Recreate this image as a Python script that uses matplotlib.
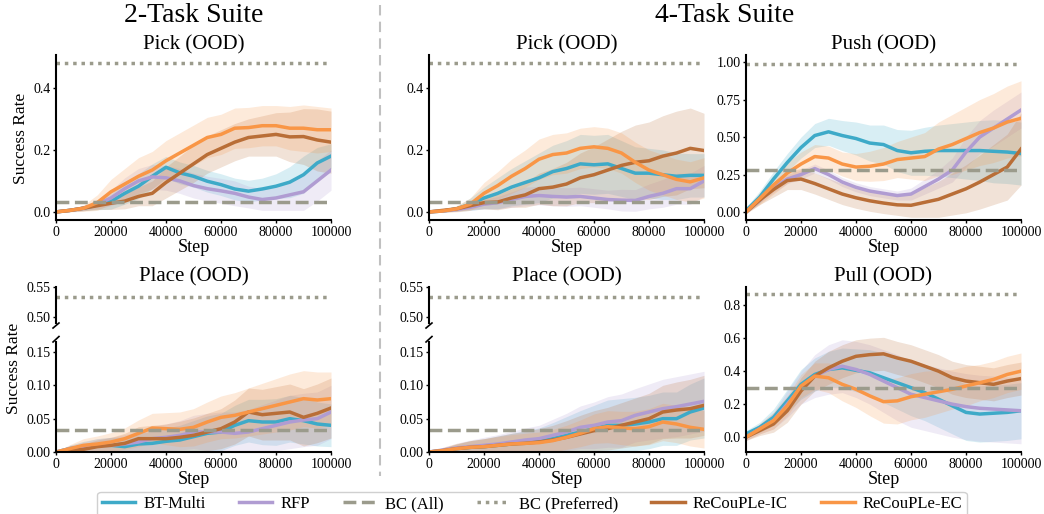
import numpy as np
import matplotlib
matplotlib.use("Agg")
import matplotlib.pyplot as plt
from matplotlib.lines import Line2D

plt.rcParams['font.family'] = ['Liberation Serif', 'DejaVu Serif']

STEPS = [0, 5000, 10000, 15000, 20000, 25000, 30000, 35000, 40000, 45000, 50000,
         55000, 60000, 65000, 70000, 75000, 80000, 85000, 90000, 95000, 100000]

C_BT = '#3eaac8'
C_RFP = '#b09cd2'
C_BC = '#9b9b8c'
C_IC = '#b96e37'
C_EC = '#f99646'

# --- 2-task pick ---
PICK2_BT = [0, 0.005, 0.012, 0.022, 0.034, 0.06, 0.083, 0.115, 0.144, 0.126, 0.115,
            0.099, 0.088, 0.074, 0.067, 0.074, 0.083, 0.096, 0.12, 0.158, 0.18]
PICK2_BT_SD = [0, 0.004, 0.008, 0.015, 0.025, 0.035, 0.04, 0.04, 0.035, 0.035, 0.035,
               0.035, 0.035, 0.035, 0.035, 0.035, 0.04, 0.05, 0.06, 0.05, 0.04]
PICK2_RFP = [0, 0.005, 0.012, 0.025, 0.045, 0.075, 0.1, 0.113, 0.11, 0.1, 0.085,
             0.075, 0.068, 0.06, 0.048, 0.04, 0.045, 0.055, 0.065, 0.1, 0.135]
PICK2_RFP_SD = [0, 0.004, 0.008, 0.015, 0.025, 0.035, 0.04, 0.04, 0.04, 0.04, 0.04,
                0.04, 0.04, 0.04, 0.035, 0.035, 0.04, 0.05, 0.06, 0.065, 0.065]
PICK2_IC = [0, 0.005, 0.012, 0.02, 0.028, 0.035, 0.05, 0.06, 0.095, 0.125, 0.155,
            0.185, 0.205, 0.225, 0.24, 0.245, 0.25, 0.242, 0.243, 0.232, 0.225]
PICK2_IC_SD = [0, 0.004, 0.008, 0.012, 0.02, 0.025, 0.03, 0.04, 0.05, 0.055, 0.06,
               0.06, 0.06, 0.06, 0.06, 0.065, 0.07, 0.08, 0.09, 0.1, 0.1]
PICK2_EC = [0, 0.005, 0.012, 0.03, 0.065, 0.09, 0.115, 0.135, 0.165, 0.19, 0.215,
            0.24, 0.25, 0.27, 0.272, 0.278, 0.278, 0.27, 0.27, 0.265, 0.265]
PICK2_EC_SD = [0, 0.005, 0.01, 0.025, 0.04, 0.05, 0.06, 0.06, 0.065, 0.065, 0.065,
               0.065, 0.065, 0.065, 0.065, 0.065, 0.065, 0.07, 0.075, 0.075, 0.07]

# --- 2-task place ---
PLACE2_BT = [0, 0.005, 0.008, 0.01, 0.01, 0.008, 0.012, 0.013, 0.016, 0.018, 0.023,
             0.028, 0.03, 0.04, 0.047, 0.045, 0.045, 0.05, 0.047, 0.042, 0.04]
PLACE2_BT_SD = [0, 0.005, 0.008, 0.01, 0.012, 0.014, 0.016, 0.018, 0.02, 0.022, 0.024,
                0.026, 0.028, 0.03, 0.032, 0.034, 0.035, 0.035, 0.035, 0.033, 0.032]
PLACE2_RFP = [0, 0.005, 0.007, 0.01, 0.01, 0.012, 0.015, 0.02, 0.022, 0.025, 0.03,
              0.03, 0.03, 0.028, 0.03, 0.035, 0.04, 0.045, 0.048, 0.05, 0.06]
PLACE2_RFP_SD = [0, 0.005, 0.008, 0.01, 0.012, 0.014, 0.016, 0.018, 0.02, 0.022, 0.025,
                 0.028, 0.03, 0.032, 0.034, 0.036, 0.038, 0.04, 0.04, 0.04, 0.04]
PLACE2_IC = [0, 0.002, 0.004, 0.008, 0.01, 0.013, 0.02, 0.02, 0.02, 0.022, 0.025,
             0.03, 0.035, 0.045, 0.06, 0.056, 0.058, 0.06, 0.052, 0.058, 0.066]
PLACE2_IC_SD = [0, 0.004, 0.008, 0.01, 0.012, 0.015, 0.018, 0.02, 0.022, 0.024, 0.026,
                0.028, 0.03, 0.033, 0.036, 0.038, 0.04, 0.042, 0.043, 0.044, 0.045]
PLACE2_EC = [0, 0.005, 0.01, 0.012, 0.015, 0.02, 0.028, 0.036, 0.035, 0.034, 0.037,
             0.045, 0.052, 0.055, 0.06, 0.065, 0.07, 0.075, 0.08, 0.078, 0.08]
PLACE2_EC_SD = [0, 0.006, 0.01, 0.012, 0.014, 0.016, 0.02, 0.022, 0.024, 0.026, 0.028,
                0.03, 0.032, 0.034, 0.036, 0.038, 0.04, 0.042, 0.042, 0.042, 0.04]

# --- 4-task pick ---
PICK4_BT = [0, 0.003, 0.01, 0.025, 0.045, 0.06, 0.08, 0.095, 0.11, 0.13, 0.14,
            0.155, 0.152, 0.155, 0.14, 0.125, 0.125, 0.12, 0.115, 0.118, 0.118]
PICK4_BT_SD = [0, 0.004, 0.008, 0.02, 0.035, 0.05, 0.06, 0.07, 0.08, 0.085, 0.09,
               0.095, 0.095, 0.095, 0.09, 0.085, 0.08, 0.08, 0.075, 0.07, 0.07]
PICK4_RFP = [0, 0.003, 0.008, 0.015, 0.025, 0.03, 0.04, 0.05, 0.053, 0.05, 0.048,
             0.05, 0.045, 0.04, 0.038, 0.037, 0.05, 0.06, 0.075, 0.075, 0.1]
PICK4_RFP_SD = [0, 0.003, 0.006, 0.01, 0.015, 0.02, 0.025, 0.03, 0.03, 0.03, 0.03,
                0.03, 0.03, 0.03, 0.035, 0.035, 0.04, 0.045, 0.05, 0.05, 0.05]
PICK4_IC = [0, 0.005, 0.01, 0.02, 0.03, 0.032, 0.045, 0.055, 0.075, 0.08, 0.09,
            0.11, 0.12, 0.135, 0.15, 0.16, 0.165, 0.18, 0.19, 0.205, 0.198]
PICK4_IC_SD = [0, 0.004, 0.008, 0.012, 0.02, 0.025, 0.03, 0.04, 0.05, 0.06, 0.07,
               0.08, 0.09, 0.1, 0.11, 0.12, 0.125, 0.13, 0.135, 0.13, 0.12]
PICK4_EC = [0, 0.003, 0.01, 0.025, 0.06, 0.085, 0.115, 0.14, 0.17, 0.185, 0.19,
            0.205, 0.21, 0.205, 0.19, 0.16, 0.135, 0.12, 0.105, 0.097, 0.11]
PICK4_EC_SD = [0, 0.005, 0.01, 0.02, 0.035, 0.045, 0.055, 0.06, 0.065, 0.065, 0.065,
               0.065, 0.065, 0.065, 0.065, 0.065, 0.065, 0.065, 0.065, 0.065, 0.065]

# --- 4-task place ---
PLACE4_BT = [0, 0.002, 0.005, 0.007, 0.008, 0.01, 0.012, 0.014, 0.016, 0.02, 0.025,
             0.03, 0.035, 0.04, 0.04, 0.042, 0.045, 0.05, 0.05, 0.06, 0.066]
PLACE4_BT_SD = [0, 0.004, 0.007, 0.01, 0.012, 0.014, 0.016, 0.018, 0.02, 0.024, 0.028,
                0.032, 0.035, 0.038, 0.04, 0.04, 0.04, 0.04, 0.04, 0.042, 0.045]
PLACE4_RFP = [0, 0.003, 0.006, 0.008, 0.01, 0.012, 0.015, 0.018, 0.02, 0.025, 0.03,
              0.037, 0.04, 0.045, 0.047, 0.055, 0.06, 0.065, 0.068, 0.072, 0.076]
PLACE4_RFP_SD = [0, 0.004, 0.007, 0.01, 0.012, 0.014, 0.016, 0.018, 0.02, 0.024, 0.028,
                 0.032, 0.035, 0.038, 0.04, 0.04, 0.042, 0.044, 0.045, 0.045, 0.045]
PLACE4_IC = [0, 0.002, 0.005, 0.007, 0.008, 0.01, 0.012, 0.013, 0.015, 0.018, 0.022,
             0.027, 0.032, 0.035, 0.04, 0.045, 0.05, 0.06, 0.063, 0.065, 0.07]
PLACE4_IC_SD = [0, 0.004, 0.007, 0.01, 0.012, 0.014, 0.016, 0.018, 0.02, 0.022, 0.025,
                0.028, 0.03, 0.032, 0.034, 0.036, 0.038, 0.04, 0.042, 0.044, 0.045]
PLACE4_EC = [0, 0.002, 0.005, 0.007, 0.008, 0.01, 0.012, 0.013, 0.014, 0.017, 0.022,
             0.028, 0.035, 0.038, 0.036, 0.035, 0.038, 0.045, 0.042, 0.037, 0.034]
PLACE4_EC_SD = [0, 0.005, 0.008, 0.01, 0.012, 0.013, 0.014, 0.015, 0.016, 0.017, 0.018,
                0.02, 0.022, 0.024, 0.025, 0.026, 0.027, 0.028, 0.028, 0.028, 0.028]

# --- push ---
PUSH_BT = [0.01, 0.1, 0.22, 0.33, 0.43, 0.51, 0.535, 0.51, 0.49, 0.46, 0.45,
           0.41, 0.395, 0.405, 0.41, 0.41, 0.41, 0.41, 0.405, 0.4, 0.39]
PUSH_BT_SD = [0.02, 0.04, 0.05, 0.06, 0.07, 0.08, 0.09, 0.1, 0.11, 0.12, 0.13,
              0.14, 0.15, 0.16, 0.17, 0.18, 0.19, 0.2, 0.21, 0.21, 0.21]
PUSH_RFP = [0.0, 0.08, 0.16, 0.22, 0.25, 0.29, 0.25, 0.2, 0.165, 0.14, 0.125,
            0.11, 0.12, 0.17, 0.22, 0.28, 0.4, 0.5, 0.56, 0.62, 0.68]
PUSH_RFP_SD = [0.01, 0.02, 0.03, 0.03, 0.03, 0.03, 0.03, 0.03, 0.03, 0.03, 0.03,
               0.03, 0.04, 0.05, 0.06, 0.08, 0.1, 0.11, 0.12, 0.12, 0.12]
PUSH_IC = [0.0, 0.08, 0.15, 0.21, 0.22, 0.19, 0.155, 0.12, 0.095, 0.075, 0.06,
           0.048, 0.045, 0.065, 0.085, 0.12, 0.155, 0.2, 0.25, 0.3, 0.42]
PUSH_IC_SD = [0.01, 0.03, 0.05, 0.06, 0.07, 0.07, 0.07, 0.07, 0.07, 0.07, 0.07,
              0.07, 0.08, 0.1, 0.12, 0.14, 0.16, 0.18, 0.2, 0.22, 0.24]
PUSH_EC = [0.0, 0.09, 0.18, 0.26, 0.32, 0.37, 0.36, 0.32, 0.3, 0.305, 0.32,
           0.35, 0.36, 0.37, 0.42, 0.45, 0.49, 0.53, 0.56, 0.6, 0.625]
PUSH_EC_SD = [0.01, 0.04, 0.06, 0.07, 0.08, 0.08, 0.08, 0.08, 0.09, 0.1, 0.11,
              0.12, 0.14, 0.16, 0.18, 0.2, 0.21, 0.22, 0.23, 0.24, 0.25]

# --- pull ---
PULL_BT = [0.02, 0.06, 0.12, 0.22, 0.32, 0.38, 0.41, 0.42, 0.405, 0.39, 0.36,
           0.33, 0.3, 0.27, 0.23, 0.19, 0.15, 0.14, 0.145, 0.15, 0.16]
PULL_BT_SD = [0.02, 0.03, 0.05, 0.07, 0.09, 0.1, 0.11, 0.12, 0.13, 0.14, 0.15,
              0.16, 0.17, 0.17, 0.17, 0.17, 0.17, 0.17, 0.17, 0.17, 0.17]
PULL_RFP = [0.0, 0.05, 0.1, 0.2, 0.3, 0.37, 0.41, 0.43, 0.41, 0.38, 0.34,
            0.3, 0.26, 0.24, 0.22, 0.2, 0.185, 0.175, 0.17, 0.165, 0.16]
PULL_RFP_SD = [0.02, 0.03, 0.05, 0.08, 0.1, 0.13, 0.15, 0.16, 0.17, 0.18, 0.19,
               0.2, 0.2, 0.2, 0.2, 0.2, 0.2, 0.2, 0.2, 0.2, 0.2]
PULL_IC = [0.0, 0.04, 0.08, 0.16, 0.28, 0.37, 0.42, 0.46, 0.49, 0.5, 0.505,
           0.48, 0.46, 0.43, 0.4, 0.36, 0.34, 0.33, 0.32, 0.34, 0.355]
PULL_IC_SD = [0.02, 0.03, 0.05, 0.07, 0.08, 0.09, 0.1, 0.1, 0.1, 0.1, 0.1,
              0.1, 0.1, 0.1, 0.1, 0.1, 0.1, 0.1, 0.1, 0.1, 0.1]
PULL_EC = [0.0, 0.05, 0.1, 0.19, 0.31, 0.37, 0.36, 0.32, 0.29, 0.25, 0.215,
           0.22, 0.245, 0.26, 0.275, 0.29, 0.31, 0.33, 0.35, 0.38, 0.4]
PULL_EC_SD = [0.02, 0.03, 0.05, 0.06, 0.07, 0.08, 0.09, 0.1, 0.11, 0.12, 0.13,
              0.14, 0.14, 0.14, 0.13, 0.12, 0.12, 0.11, 0.11, 0.11, 0.11]

# baselines
BC_ALL = {'pick2': 0.033, 'place2': 0.033, 'pick4': 0.033, 'place4': 0.033,
          'push': 0.283, 'pull': 0.30}
BC_PREF = {'pick2': 0.48, 'place2': 0.534, 'pick4': 0.48, 'place4': 0.534,
           'push': 0.985, 'pull': 0.867}

LABELS = ['BT-Multi', 'RFP', 'BC (All)', 'BC (Preferred)', 'ReCouPLe-IC', 'ReCouPLe-EC']

W, H = 1044, 514
TICK_FS = 10
TITLE_FS = 15
XLAB_FS = 13


def add_ax(fig, x0, x1, y0, y1):
    return fig.add_axes([x0 / W, (H - y1) / H, (x1 - x0) / W, (y1 - y0) / H])


def style(ax, bottom=True):
    for s in ['top', 'right']:
        ax.spines[s].set_visible(False)
    ax.spines['left'].set_linewidth(1.5)
    ax.spines['bottom'].set_linewidth(1.5)
    ax.tick_params(labelsize=TICK_FS, length=2.5, width=1, pad=1.5)
    if not bottom:
        ax.spines['bottom'].set_visible(False)
        ax.tick_params(axis='x', bottom=False, labelbottom=False)


def draw(ax, series, key):
    x = np.array(STEPS)
    for mean, sd, c in series:
        m = np.array(mean)
        s = np.array(sd)
        ax.fill_between(x, m - s, m + s, color=c, alpha=0.2, lw=0)
    for mean, sd, c in series:
        ax.plot(x, mean, color=c, lw=2.5)
    ax.axhline(BC_ALL[key], color=C_BC, lw=2.5, ls='--')
    ax.axhline(BC_PREF[key], color=C_BC, lw=2.5, ls=(0, (1, 1.4)))
    ax.set_xlim(0, 100000)
    ax.set_xticks([0, 20000, 40000, 60000, 80000, 100000])
    ax.set_xticklabels(['0', '20000', '40000', '60000', '80000', '100000'])


def broken_place(fig, x0, x1, series, key):
    top = add_ax(fig, x0, x1, 287, 323)
    bot = add_ax(fig, x0, x1, 342, 452)
    for ax in (top, bot):
        draw(ax, series, key)
    top.set_ylim(0.49, 0.55)
    top.set_yticks([0.50, 0.55])
    top.set_yticklabels(['0.50', '0.55'])
    bot.set_ylim(0, 0.165)
    bot.set_yticks([0, 0.05, 0.10, 0.15])
    bot.set_yticklabels(['0.00', '0.05', '0.10', '0.15'])
    style(top, bottom=False)
    style(bot)
    # break marks
    d = 0.012
    kw = dict(color='k', lw=1.2, clip_on=False)
    top.plot([-d * 0.9, d * 0.9], [-0.14, 0.0], transform=top.transAxes, **kw)
    bot.plot([-d * 0.9, d * 0.9], [1.0, 1.05], transform=bot.transAxes, **kw)
    return top, bot


fig = plt.figure(figsize=(10.44, 5.14), dpi=100)

cols = [(56, 331), (429, 704), (746, 1021)]

# 2-task pick
ax = add_ax(fig, *cols[0], 55, 220)
draw(ax, [(PICK2_BT, PICK2_BT_SD, C_BT), (PICK2_RFP, PICK2_RFP_SD, C_RFP),
          (PICK2_IC, PICK2_IC_SD, C_IC), (PICK2_EC, PICK2_EC_SD, C_EC)], 'pick2')
ax.set_ylim(-0.026, 0.506)
ax.set_yticks([0, 0.2, 0.4])
style(ax)
ax.set_title('Pick (OOD)', fontsize=TITLE_FS, pad=4)
ax.set_xlabel('Step', fontsize=XLAB_FS, labelpad=0)
fig.text(21 / W, 1 - 138 / H, 'Success Rate', rotation=90, fontsize=12.5,
         ha='center', va='center')

# 4-task pick
ax = add_ax(fig, *cols[1], 55, 220)
draw(ax, [(PICK4_BT, PICK4_BT_SD, C_BT), (PICK4_RFP, PICK4_RFP_SD, C_RFP),
          (PICK4_IC, PICK4_IC_SD, C_IC), (PICK4_EC, PICK4_EC_SD, C_EC)], 'pick4')
ax.set_ylim(-0.026, 0.506)
ax.set_yticks([0, 0.2, 0.4])
style(ax)
ax.set_title('Pick (OOD)', fontsize=TITLE_FS, pad=4)
ax.set_xlabel('Step', fontsize=XLAB_FS, labelpad=0)

# push
ax = add_ax(fig, *cols[2], 55, 220)
draw(ax, [(PUSH_BT, PUSH_BT_SD, C_BT), (PUSH_RFP, PUSH_RFP_SD, C_RFP),
          (PUSH_IC, PUSH_IC_SD, C_IC), (PUSH_EC, PUSH_EC_SD, C_EC)], 'push')
ax.set_ylim(-0.053, 1.047)
ax.set_yticks([0, 0.25, 0.5, 0.75, 1.0])
ax.set_yticklabels(['0.00', '0.25', '0.50', '0.75', '1.00'])
style(ax)
ax.set_title('Push (OOD)', fontsize=TITLE_FS, pad=4)
ax.set_xlabel('Step', fontsize=XLAB_FS, labelpad=0)

# 2-task place
top, bot = broken_place(fig, *cols[0],
                        [(PLACE2_BT, PLACE2_BT_SD, C_BT), (PLACE2_RFP, PLACE2_RFP_SD, C_RFP),
                         (PLACE2_IC, PLACE2_IC_SD, C_IC), (PLACE2_EC, PLACE2_EC_SD, C_EC)],
                        'place2')
top.set_title('Place (OOD)', fontsize=TITLE_FS, pad=4)
bot.set_xlabel('Step', fontsize=XLAB_FS, labelpad=0)
fig.text(14 / W, 1 - 368 / H, 'Success Rate', rotation=90, fontsize=12.5,
         ha='center', va='center')

# 4-task place
top, bot = broken_place(fig, *cols[1],
                        [(PLACE4_BT, PLACE4_BT_SD, C_BT), (PLACE4_RFP, PLACE4_RFP_SD, C_RFP),
                         (PLACE4_IC, PLACE4_IC_SD, C_IC), (PLACE4_EC, PLACE4_EC_SD, C_EC)],
                        'place4')
top.set_title('Place (OOD)', fontsize=TITLE_FS, pad=4)
bot.set_xlabel('Step', fontsize=XLAB_FS, labelpad=0)

# pull
ax = add_ax(fig, *cols[2], 287, 452)
draw(ax, [(PULL_BT, PULL_BT_SD, C_BT), (PULL_RFP, PULL_RFP_SD, C_RFP),
          (PULL_IC, PULL_IC_SD, C_IC), (PULL_EC, PULL_EC_SD, C_EC)], 'pull')
ax.set_ylim(-0.09, 0.91)
ax.set_yticks([0, 0.2, 0.4, 0.6, 0.8])
style(ax)
ax.set_title('Pull (OOD)', fontsize=TITLE_FS, pad=4)
ax.set_xlabel('Step', fontsize=XLAB_FS, labelpad=0)

# suite titles and divider
fig.text(193.5 / W, 1 - 16 / H, '2-Task Suite', fontsize=20, ha='center', va='center')
fig.text(725 / W, 1 - 16 / H, '4-Task Suite', fontsize=20, ha='center', va='center')
fig.add_artist(Line2D([380 / W, 380 / W], [1 - 5 / H, 1 - 476 / H],
                      transform=fig.transFigure, color='#c0c0c0', lw=1.5, ls=(0, (5, 3))))

handles = [Line2D([], [], color=C_BT, lw=2.5),
           Line2D([], [], color=C_RFP, lw=2.5),
           Line2D([], [], color=C_BC, lw=2.5, ls='--'),
           Line2D([], [], color=C_BC, lw=2.5, ls=(0, (1, 1.4))),
           Line2D([], [], color=C_IC, lw=2.5),
           Line2D([], [], color=C_EC, lw=2.5)]
leg = fig.legend(handles, LABELS, loc='upper center', bbox_to_anchor=(532 / W, 1 - 492 / H),
                 ncol=6, fontsize=12, frameon=True, handlelength=2.0,
                 columnspacing=2.0, borderpad=0.25, handletextpad=0.5,
                 borderaxespad=0)
leg.get_frame().set_edgecolor('#d0d0d0')
leg.get_frame().set_alpha(1)

fig.savefig('out.png', dpi=100)
